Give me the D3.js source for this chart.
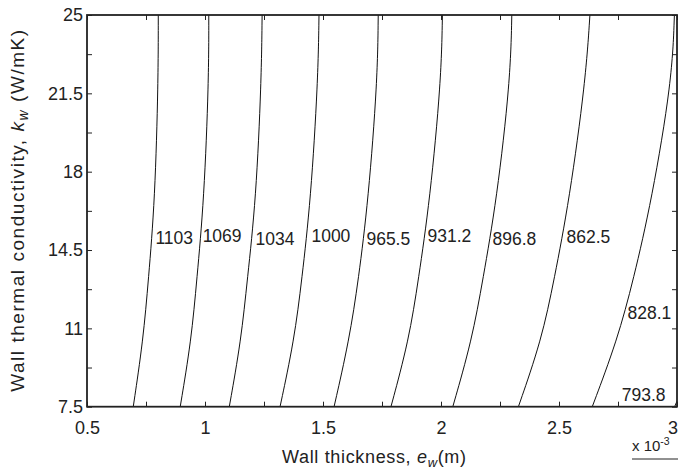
<!DOCTYPE html>
<html>
<head>
<meta charset="utf-8">
<script src="https://cdn.jsdelivr.net/npm/d3@7"></script>
<style>
  html, body { margin: 0; padding: 0; background: #fff; }
  svg { display: block; }
  text { font-family: "Liberation Sans", Arial, Helvetica, sans-serif; fill: #222; }
</style>
</head>
<body>
<svg id="chart" width="680" height="469"></svg>
<script>
// ---------------- data ----------------
const contourLevels = [1103, 1069, 1034, 1000, 965.5, 931.2, 896.8, 862.5, 828.1, 793.8];
// wall conductivity samples (W/mK), top to bottom
const kSamples = [25, 22.1, 16.74, 13.16, 10.48, 7.5];
// wall thickness (x10^-3 m) of each contour at kSamples
const e1103 = [0.802, 0.802, 0.788, 0.760, 0.738, 0.696];
const e1069 = [1.016, 1.016, 0.996, 0.965, 0.942, 0.895];
const e1034 = [1.242, 1.239, 1.216, 1.179, 1.153, 1.103];
const e1000 = [1.483, 1.479, 1.448, 1.410, 1.378, 1.318];
const e965 = [1.734, 1.731, 1.692, 1.650, 1.611, 1.547];
const e931 = [2.006, 2.001, 1.953, 1.904, 1.864, 1.788];
const e897 = [2.300, 2.294, 2.236, 2.177, 2.131, 2.050];
const e862 = [2.631, 2.613, 2.544, 2.479, 2.426, 2.328];
const e828 = [2.989, 2.979, 2.893, 2.815, 2.747, 2.641];
// 793.8 contour only clips the bottom-right corner
const k794 = [7.75, 7.5];
const e794 = [3.0, 2.99];

// label anchors (data coords)
const labelE = [0.790, 0.990, 1.214, 1.451, 1.684, 1.943, 2.218, 2.532, 2.790, 2.766];
const labelK = [15.05, 15.15, 15.0, 15.15, 15.0, 15.15, 15.0, 15.1, 11.69, 8.02];
const labelText = ["1103", "1069", "1034", "1000", "965.5", "931.2", "896.8", "862.5", "828.1", "793.8"];

const xTicks = [0.5, 0.75, 1, 1.25, 1.5, 1.75, 2, 2.25, 2.5, 2.75, 3];
const xTickLabels = ["0.5", "", "1", "", "1.5", "", "2", "", "2.5", "", "3"];
const yTicks = [7.5, 9.25, 11, 12.75, 14.5, 16.25, 18, 19.75, 21.5, 23.25, 25];
const yTickLabels = ["7.5", "", "11", "", "14.5", "", "18", "", "21.5", "", "25"];

// ---------------- layout ----------------
const svg = d3.select("#chart");
const L = 87, R = 677, T = 15, B = 406.7;
const x = d3.scaleLinear().domain([0.5, 3]).range([L, R]);
const y = d3.scaleLinear().domain([7.5, 25]).range([B, T]);

svg.append("defs").append("clipPath").attr("id", "clip")
  .append("rect").attr("x", L).attr("y", T).attr("width", R - L).attr("height", B - T);

// contours
const contours = [
  {k: kSamples, e: e1103}, {k: kSamples, e: e1069}, {k: kSamples, e: e1034},
  {k: kSamples, e: e1000}, {k: kSamples, e: e965}, {k: kSamples, e: e931},
  {k: kSamples, e: e897}, {k: kSamples, e: e862}, {k: kSamples, e: e828},
  {k: k794, e: e794}
];
const line = d3.line()
  .x(d => x(d[0])).y(d => y(d[1]))
  .curve(d3.curveBasis);

const gC = svg.append("g").attr("clip-path", "url(#clip)");
contours.forEach(c => {
  const pts = c.e.map((v, i) => [v, c.k[i]]);
  gC.append("path").attr("d", line(pts))
    .attr("fill", "none").attr("stroke", "#111").attr("stroke-width", 1);
});

// labels
labelText.forEach((t, i) => {
  svg.append("text")
    .attr("x", x(labelE[i])).attr("y", y(labelK[i]))
    .attr("dy", "0.36em")
    .attr("font-size", 17.5)
    .text(t);
});

// axes (ticks inward on all four sides)
const fmtX = (d, i) => xTickLabels[i];
const fmtY = (d, i) => yTickLabels[i];
const axB = d3.axisBottom(x).tickValues(xTicks).tickFormat(fmtX).tickSizeInner(-5).tickSizeOuter(0).tickPadding(15);
const axT = d3.axisTop(x).tickValues(xTicks).tickFormat("").tickSizeInner(-5).tickSizeOuter(0);
const axL = d3.axisLeft(y).tickValues(yTicks).tickFormat(fmtY).tickSizeInner(-5).tickSizeOuter(0).tickPadding(4);
const axR = d3.axisRight(y).tickValues(yTicks).tickFormat("").tickSizeInner(-5).tickSizeOuter(0);

function style(g) {
  g.select(".domain").remove();
  g.selectAll(".tick line").attr("stroke", "#222").attr("stroke-width", 1);
  g.selectAll(".tick text").attr("font-size", 18).attr("fill", "#222")
    .attr("font-family", "Liberation Sans, Arial, sans-serif");
}
const gB = svg.append("g").attr("transform", `translate(0,${B})`).call(axB).call(style);
gB.selectAll(".tick text").filter(d => d === 3).attr("dx", -4.5);
svg.append("g").attr("transform", `translate(0,${T})`).call(axT).call(style);
svg.append("g").attr("transform", `translate(${L},0)`).call(axL).call(style);
svg.append("g").attr("transform", `translate(${R},0)`).call(axR).call(style);

// frame
svg.append("rect").attr("x", L).attr("y", T).attr("width", R - L).attr("height", B - T)
  .attr("fill", "none").attr("stroke", "#222").attr("stroke-width", 1.8);

// x-axis title
const xt = svg.append("text").attr("x", 374).attr("y", 462.5)
  .attr("text-anchor", "middle").attr("font-size", 18)
  .attr("textLength", 184).attr("lengthAdjust", "spacing");
xt.append("tspan").text("Wall thickness,  ");
xt.append("tspan").attr("font-style", "italic").text("e");
xt.append("tspan").attr("font-style", "italic").attr("font-size", 13).attr("dy", 4).text("w");
xt.append("tspan").attr("dy", -4).text("(m)");

// y-axis title
const yt = svg.append("text")
  .attr("transform", `translate(23.5,${(T + B) / 2}) rotate(-90)`)
  .attr("text-anchor", "middle").attr("font-size", 19)
  .attr("textLength", 362).attr("lengthAdjust", "spacing");
yt.append("tspan").text("Wall thermal conductivity,  ");
yt.append("tspan").attr("font-style", "italic").text("k");
yt.append("tspan").attr("font-style", "italic").attr("font-size", 14).attr("dy", 4).text("w");
yt.append("tspan").attr("dy", -4).text("  (W/mK)");

// exponent label
const ex = svg.append("text").attr("x", 632).attr("y", 450.5).attr("font-size", 15);
ex.append("tspan").text("x 10");
ex.append("tspan").attr("font-size", 10.5).attr("dy", -6).text("-3");
svg.append("line").attr("x1", 632).attr("x2", 678).attr("y1", 459).attr("y2", 459)
  .attr("stroke", "#222").attr("stroke-width", 1);
</script>
</body>
</html>
